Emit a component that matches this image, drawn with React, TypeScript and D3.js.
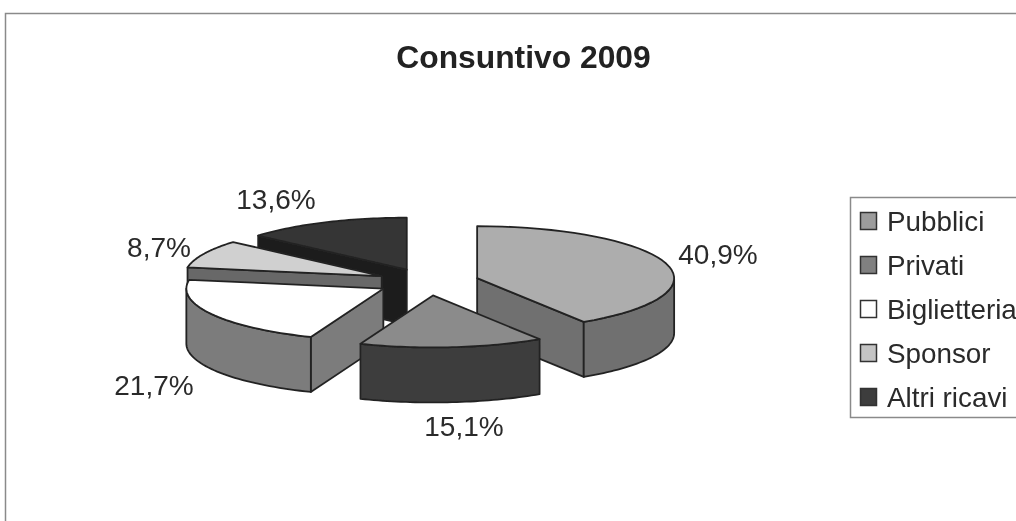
import React from "react";
import * as d3 from "d3";

const categories = ["Pubblici", "Privati", "Biglietteria", "Sponsor", "Altri ricavi"];
const values = [40.9, 15.1, 21.7, 8.7, 13.6];
const valueLabels = ["40,9%", "15,1%", "21,7%", "8,7%", "13,6%"];
const topColors = ["#adadad", "#8b8b8b", "#ffffff", "#d0d0d0", "#353535"];
const sideColors = ["#6f6f6f", "#3e3e3e", "#7b7b7b", "#676767", "#1d1d1d"];
const legendColors = ["#9c9c9c", "#808080", "#ffffff", "#c4c4c4", "#3c3c3c"];
const labelPos: [number, number][] = [[718, 264], [464, 436], [154, 395], [159, 257], [276, 209]];

const W = 1016, H = 521;
const cx = 428, cy = 282, rx = 197, ry = 52, depth = 55, explode = 0.26;
const stroke = "#242424";
const font = "'Liberation Sans', Arial, sans-serif";

const slices = d3.pie<number>().sort(null).startAngle(0).endAngle(2 * Math.PI)(values);
const pt = (a: number, ox: number, oy: number, dy = 0): [number, number] => [
  ox + rx * Math.sin(a),
  oy - ry * Math.cos(a) + dy,
];
const line = d3.line<[number, number]>();
const arcPts = (a0: number, a1: number, ox: number, oy: number, dy = 0) =>
  d3.range(0, 41).map((i) => pt(a0 + ((a1 - a0) * i) / 40, ox, oy, dy));

const drawOrder = [4, 3, 2, 0, 1];

function Slice({ i }: { i: number }) {
  const s = slices[i];
  const mid = (s.startAngle + s.endAngle) / 2;
  const ox = cx + explode * rx * Math.sin(mid);
  const oy = cy - explode * ry * Math.cos(mid);
  const a0 = s.startAngle, a1 = s.endAngle;
  const faces: [number, number][][] = [];
  const wall = (a: number) => {
    faces.push([[ox, oy], pt(a, ox, oy), pt(a, ox, oy, depth), [ox, oy + depth]]);
  };
  // only the cut walls that face the viewer
  if (Math.sin(a0) < -1e-6) wall(a0);
  if (Math.sin(a1) > 1e-6) wall(a1);
  const r0 = Math.max(a0, Math.PI / 2), r1 = Math.min(a1, 1.5 * Math.PI);
  const rim = r1 > r0 ? [...arcPts(r0, r1, ox, oy), ...arcPts(r1, r0, ox, oy, depth)] : null;
  const top: [number, number][] = [[ox, oy], ...arcPts(a0, a1, ox, oy)];
  return (
    <g stroke={stroke} strokeWidth={1.8} strokeLinejoin="round">
      {faces.map((f, k) => (
        <path key={k} d={line(f) + "Z"} fill={sideColors[i]} />
      ))}
      {rim && <path d={line(rim) + "Z"} fill={sideColors[i]} />}
      <path d={line(top) + "Z"} fill={topColors[i]} />
    </g>
  );
}

export default function App() {
  const legendY = d3.scalePoint<string>().domain(categories).range([221, 397]);
  return (
    <svg
      width={W}
      height={H}
      viewBox={`0 0 ${W} ${H}`}
      style={{ position: "fixed", left: 0, top: 0, background: "#fff" }}
      fontFamily={font}
    >
      <defs>
        <filter id="scan" x="-2%" y="-2%" width="104%" height="104%">
          <feGaussianBlur stdDeviation="0.55" />
        </filter>
      </defs>
      <g filter="url(#scan)">
        <path d={`M5.5 ${H}V13.5H${W}`} fill="none" stroke="#8a8a8a" strokeWidth={1.5} />
        <text x={523.5} y={68} textAnchor="middle" fontSize={31.8} fontWeight="bold" fill="#222">
          Consuntivo 2009
        </text>
        {drawOrder.map((i) => (
          <Slice key={i} i={i} />
        ))}
        {valueLabels.map((l, i) => (
          <text key={l} x={labelPos[i][0]} y={labelPos[i][1]} textAnchor="middle" fontSize={28} fill="#2a2a2a">
            {l}
          </text>
        ))}
        <path d={`M${W} 197.5H850.5V417.5H${W}`} fill="#fff" stroke="#8a8a8a" strokeWidth={1.5} />
        {categories.map((c, i) => {
          const y = legendY(c)!;
          return (
            <g key={c}>
              <rect x={860.5} y={y - 8.5} width={16} height={17} fill={legendColors[i]} stroke="#333" strokeWidth={1.5} />
              <text x={887} y={y + 10} fontSize={27.8} fill="#2a2a2a">
                {c}
              </text>
            </g>
          );
        })}
      </g>
    </svg>
  );
}
